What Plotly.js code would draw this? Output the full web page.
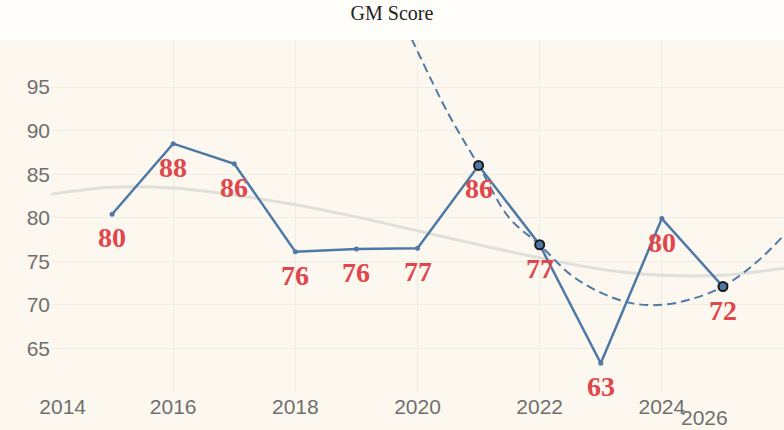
<!DOCTYPE html>
<html><head><meta charset="utf-8">
<script src="https://cdn.plot.ly/plotly-3.0.1.min.js"></script>
<style>body{margin:0;background:#fdf8ef}</style>
</head><body>
<div id="chart" style="width:784px;height:430px"></div>
<script>
var years = [2015, 2016, 2017, 2018, 2019, 2020, 2021, 2022, 2023, 2024, 2025];
var scores = [80.4, 88.5, 86.2, 76.1, 76.4, 76.5, 86.0, 76.9, 63.3, 79.9, 72.1];
var scoreLabels = ['80', '88', '86', '76', '76', '77', '86', '77', '63', '80', '72'];

var fitYears = [2019.9, 2020.5, 2021, 2021.5, 2022, 2022.5, 2023, 2023.5, 2024, 2024.5, 2025, 2025.5, 2026, 2026.3];
var fitScores = [100.6, 92.0, 86.0, 80.0, 76.9, 73.5, 71.4, 70.2, 70.0, 70.7, 72.1, 74.6, 78.0, 80.5];

var fitPtYears = [2021, 2022, 2025];
var fitPtScores = [86.0, 76.9, 72.1];

var trendYears = [2013.9, 2015, 2016, 2017, 2018, 2019, 2020, 2021, 2022, 2023, 2024, 2025, 2026.3];
var trendScores = [82.6, 83.5, 83.4, 82.6, 81.5, 80.1, 78.5, 76.9, 75.4, 74.1, 73.4, 73.4, 74.5];

var trend = {
  x: trendYears, y: trendScores, mode: 'lines', line: {color: '#dfe0da', width: 3, shape: 'spline'},
  hoverinfo: 'skip', showlegend: false
};
var fit = {
  x: fitYears, y: fitScores, mode: 'lines', line: {color: '#4e79a7', width: 2, dash: '9px,5px', shape: 'spline'},
  showlegend: false
};
var main = {
  x: years, y: scores, mode: 'lines+markers', line: {color: '#4e79a7', width: 2.5},
  marker: {size: 5, color: '#4e79a7'}, showlegend: false
};
var pts = {
  x: fitPtYears, y: fitPtScores, mode: 'markers',
  marker: {size: 9, color: '#4e79a7', line: {color: '#1a1a1a', width: 2}}, showlegend: false
};

var labelNotes = years.map(function (yr, i) {
  return {x: yr, y: scores[i], text: '<b>' + scoreLabels[i] + '</b>', showarrow: false,
    yanchor: 'top', yshift: -6,
    font: {family: 'Liberation Serif, serif', size: 28, color: '#e0474c'}};
});
labelNotes.push({xref: 'paper', yref: 'paper', x: 0.926, y: -0.035, yanchor: 'top', showarrow: false,
  text: '2026', font: {family: 'Liberation Sans, sans-serif', size: 21, color: '#6f6f6f'}});

var layout = {
  width: 784, height: 430,
  paper_bgcolor: '#fdf8ef', plot_bgcolor: '#fdf8ef',
  margin: {l: 51, r: 0, t: 40, b: 38},
  title: {text: 'GM Score', x: 0.5, y: 0.985, yanchor: 'top', font: {family: 'Liberation Serif, serif', size: 20, color: '#222'}},
  xaxis: {range: [2014, 2026], tickvals: [2014, 2016, 2018, 2020, 2022, 2024], ticktext: ['    2014', '2016', '2018', '2020', '2022', '2024'],
    showgrid: true, gridcolor: '#f1ece2', zeroline: false, showline: false,
    tickfont: {family: 'Liberation Sans, sans-serif', size: 21, color: '#6f6f6f'}},
  yaxis: {range: [60, 100.4], tickvals: [65, 70, 75, 80, 85, 90, 95],
    showgrid: true, gridcolor: '#f1ece2', zeroline: false, showline: false,
    tickfont: {family: 'Liberation Sans, sans-serif', size: 21, color: '#6f6f6f'}},
  annotations: labelNotes,
  shapes: [{type: 'rect', xref: 'paper', yref: 'paper', x0: -0.1, x1: 1, y0: 1, y1: 1.12, fillcolor: '#fffdf9', line: {width: 0}, layer: 'below'}]
};

Plotly.newPlot('chart', [trend, fit, main, pts], layout, {displayModeBar: false});
</script>
</body></html>
